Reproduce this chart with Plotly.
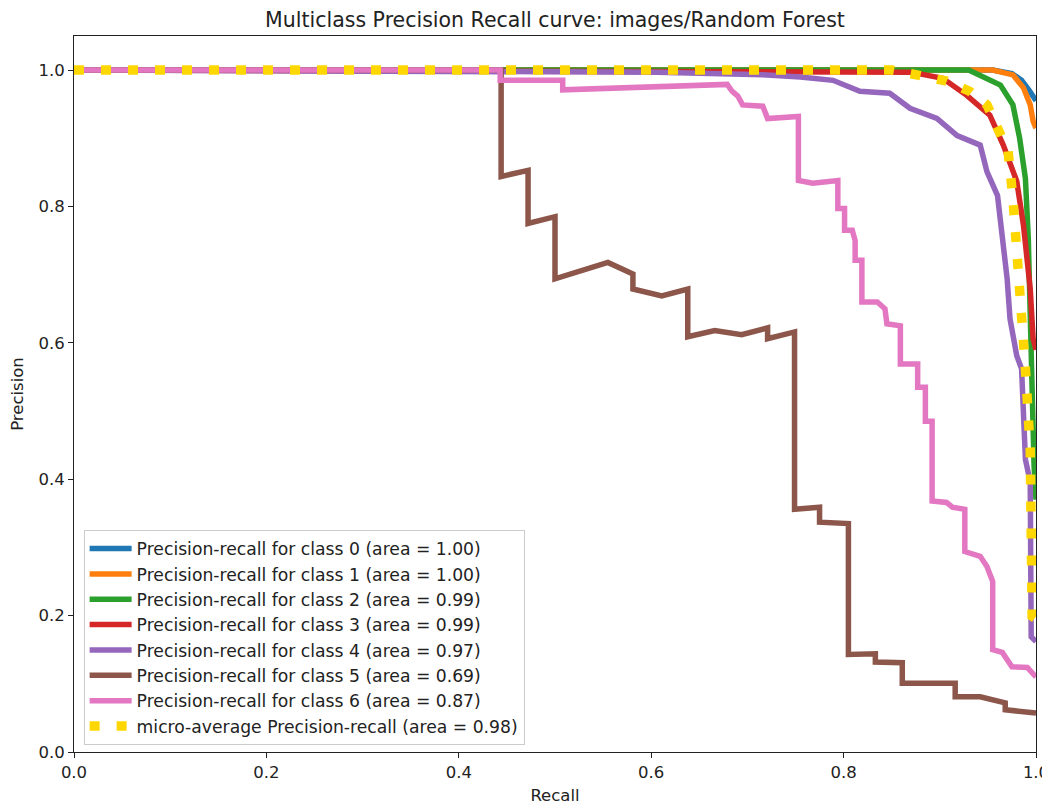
import plotly.graph_objects as go

# ---- data ----
class_names = ["0", "1", "2", "3", "4", "5", "6"]
class_areas = ["1.00", "1.00", "0.99", "0.99", "0.97", "0.69", "0.87"]
micro_area = "0.98"

c0_recall = [0, 0.955, 0.975, 0.985, 0.993, 1.0]
c0_prec = [1, 1, 0.995, 0.985, 0.97, 0.955]

c1_recall = [0, 0.955, 0.976, 0.987, 0.994, 0.997, 1.0]
c1_prec = [1, 1, 0.993, 0.974, 0.949, 0.925, 0.915]

c2_recall = [0, 0.93, 0.963, 0.976, 0.983, 0.989, 0.992, 0.994, 0.996, 0.998, 1.0]
c2_prec = [1, 1, 0.978, 0.949, 0.900, 0.841, 0.753, 0.616, 0.5, 0.42, 0.37]

c3_recall = [0, 0.6, 0.87, 0.903, 0.928, 0.952, 0.966, 0.980, 0.987, 0.994, 0.997, 1.0]
c3_prec = [1, 0.999, 0.997, 0.988, 0.963, 0.934, 0.890, 0.837, 0.772, 0.679, 0.606, 0.59]

c4_recall = [0, 0.606, 0.716, 0.755, 0.789, 0.817, 0.848, 0.869, 0.897, 0.918, 0.942,
             0.949, 0.960, 0.965, 0.970, 0.973, 0.980, 0.985, 0.989, 0.994, 0.995, 1.0]
c4_prec = [1, 0.997, 0.993, 0.990, 0.985, 0.969, 0.966, 0.944, 0.929, 0.904, 0.890,
           0.851, 0.816, 0.753, 0.694, 0.635, 0.581, 0.562, 0.429, 0.396, 0.169, 0.162]

c5_recall = [0, 0.444, 0.444, 0.472, 0.472, 0.5, 0.5, 0.555, 0.581, 0.581,
             0.611, 0.638, 0.638, 0.666, 0.694, 0.721, 0.721, 0.749, 0.749, 0.775,
             0.775, 0.805, 0.805, 0.833, 0.833, 0.861, 0.861, 0.916, 0.916, 0.942,
             0.968, 0.968, 1.0]
c5_prec = [1, 1, 0.844, 0.853, 0.775, 0.785, 0.694, 0.718, 0.701, 0.679,
           0.669, 0.679, 0.609, 0.618, 0.612, 0.622, 0.606, 0.616, 0.356, 0.359,
           0.337, 0.335, 0.143, 0.144, 0.132, 0.131, 0.101, 0.101, 0.081, 0.081,
           0.072, 0.062, 0.057]

c6_recall = [0, 0.443, 0.443, 0.508, 0.508, 0.679, 0.684, 0.690, 0.695, 0.716,
             0.721, 0.753, 0.753, 0.768, 0.794, 0.794, 0.801, 0.801, 0.809, 0.812,
             0.812, 0.819, 0.819, 0.835, 0.843, 0.845, 0.859, 0.859, 0.877, 0.877,
             0.885, 0.885, 0.892, 0.892, 0.907, 0.913, 0.926, 0.926, 0.942, 0.949,
             0.955, 0.955, 0.965, 0.970, 0.975, 0.991, 1.0]
c6_prec = [1, 1, 0.985, 0.985, 0.971, 0.979, 0.969, 0.962, 0.949, 0.947,
           0.929, 0.932, 0.838, 0.834, 0.838, 0.797, 0.797, 0.765, 0.765, 0.750,
           0.721, 0.721, 0.660, 0.660, 0.650, 0.628, 0.625, 0.569, 0.569, 0.535,
           0.535, 0.485, 0.485, 0.368, 0.366, 0.359, 0.356, 0.294, 0.287, 0.272,
           0.250, 0.150, 0.146, 0.135, 0.125, 0.124, 0.110]

micro_recall = [0, 0.85, 0.876, 0.907, 0.931, 0.949, 0.960, 0.971, 0.976, 0.981,
                0.985, 0.989, 0.994, 0.996, 1.0]
micro_prec = [1, 1, 0.993, 0.984, 0.969, 0.949, 0.915, 0.881, 0.812, 0.728,
              0.654, 0.562, 0.444, 0.199, 0.195]

x_ticks = [0.0, 0.2, 0.4, 0.6, 0.8, 1.0]
y_ticks = [0.0, 0.2, 0.4, 0.6, 0.8, 1.0]

colors = ["#1f77b4", "#ff7f0e", "#2ca02c", "#d62728", "#9467bd", "#8c564b", "#e377c2"]
micro_color = "#ffd700"

recalls = [c0_recall, c1_recall, c2_recall, c3_recall, c4_recall, c5_recall, c6_recall]
precs = [c0_prec, c1_prec, c2_prec, c3_prec, c4_prec, c5_prec, c6_prec]

FONT = "DejaVu Sans"
TXT = "#222222"
# page body has an 8px default margin, so the figure is sized to fit the 1050x807 window
FIG_W, FIG_H = 1042, 799

fig = go.Figure()
for i, (rx, py) in enumerate(zip(recalls, precs)):
    fig.add_trace(go.Scatter(
        x=rx, y=py, mode="lines",
        line=dict(color=colors[i], width=5.5),
        name=f"Precision-recall for class {class_names[i]} (area = {class_areas[i]})",
    ))
fig.add_trace(go.Scatter(
    x=micro_recall, y=micro_prec, mode="lines",
    line=dict(color=micro_color, width=9.5, dash="10px,17px"),
    name=f"micro-average Precision-recall (area = {micro_area})",
))

axis_common = dict(
    showgrid=False, zeroline=False, showline=True, linecolor=TXT, linewidth=1,
    mirror=True, ticks="outside", ticklen=5, tickcolor=TXT, automargin=False,
    tickfont=dict(family=FONT, size=16.5, color=TXT),
)
fig.update_layout(
    width=FIG_W, height=FIG_H,
    margin=dict(l=66, r=14, t=28, b=55, autoexpand=False),
    paper_bgcolor="white", plot_bgcolor="white",
    font=dict(family=FONT, color=TXT),
    title=dict(text="Multiclass Precision Recall curve: images/Random Forest",
               x=0.5, xref="paper", xanchor="center",
               y=1 - 12 / FIG_H, yref="container", yanchor="middle",
               font=dict(family=FONT, size=20.5, color=TXT)),
    xaxis=dict(range=[0, 1], tickvals=x_ticks, ticktext=[f"{v:.1f}" for v in x_ticks],
               title=dict(text="Recall", font=dict(family=FONT, size=16.5), standoff=8),
               **axis_common),
    yaxis=dict(range=[0, 1.05], tickvals=y_ticks, ticktext=[f"{v:.1f}" for v in y_ticks],
               title=dict(text="Precision", font=dict(family=FONT, size=16.5), standoff=10),
               **axis_common),
    legend=dict(x=0.01, y=0.01, xanchor="left", yanchor="bottom",
                bgcolor="rgba(255,255,255,0.85)", bordercolor="#cccccc", borderwidth=1,
                font=dict(family=FONT, size=17.2, color=TXT),
                itemwidth=42, traceorder="normal"),
)
fig.write_html("out.html")
